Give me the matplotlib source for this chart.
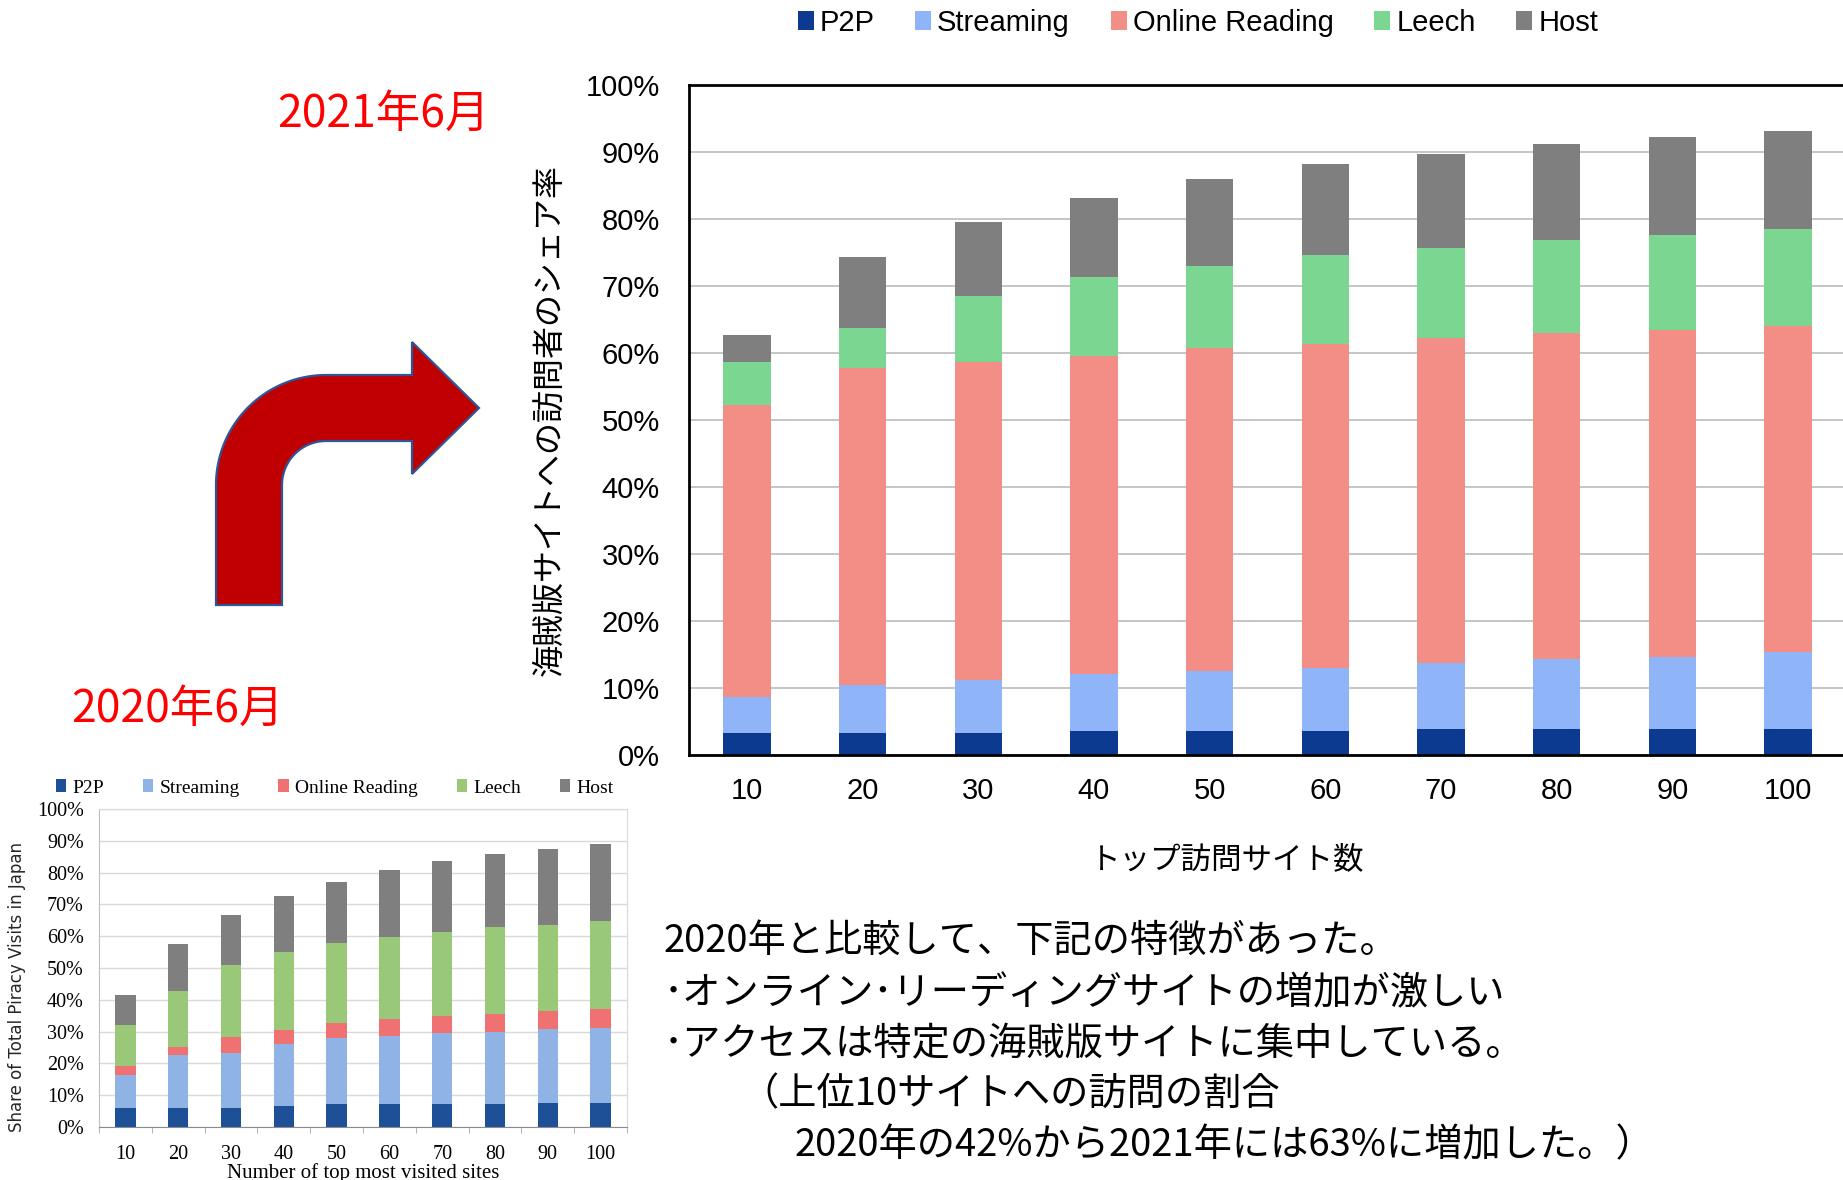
import numpy as np
import matplotlib.pyplot as plt
from matplotlib.patches import Polygon

plt.rcParams['font.family'] = ['Noto Sans CJK JP', 'DejaVu Sans']
plt.rcParams['axes.unicode_minus'] = False

# データ（上位サイト数ごとの訪問シェア, %）
sites = ['10', '20', '30', '40', '50', '60', '70', '80', '90', '100']
categories = ['P2P', 'Streaming', 'Online Reading', 'Leech', 'Host']

# 2021年6月
p2p_2021 = [3.3, 3.3, 3.3, 3.6, 3.6, 3.6, 3.9, 3.9, 3.9, 3.9]
streaming_2021 = [5.4, 7.2, 7.9, 8.5, 9.0, 9.4, 9.8, 10.5, 10.7, 11.4]
reading_2021 = [43.6, 47.2, 47.5, 47.5, 48.1, 48.4, 48.6, 48.6, 48.8, 48.8]
leech_2021 = [6.3, 6.1, 9.8, 11.8, 12.3, 13.2, 13.4, 13.9, 14.2, 14.4]
host_2021 = [4.1, 10.6, 11.0, 11.7, 12.9, 13.6, 14.0, 14.3, 14.6, 14.7]

# 2020年6月
p2p_2020 = [5.9, 5.9, 5.9, 6.5, 7.3, 7.3, 7.3, 7.3, 7.6, 7.6]
streaming_2020 = [10.6, 16.6, 17.5, 19.6, 20.7, 21.2, 22.2, 22.7, 23.3, 23.6]
reading_2020 = [2.7, 2.8, 4.9, 4.5, 4.8, 5.6, 5.4, 5.5, 5.6, 5.9]
leech_2020 = [13.0, 17.5, 22.6, 24.3, 25.1, 25.6, 26.3, 27.5, 27.1, 27.7]
host_2020 = [9.3, 14.8, 15.7, 17.7, 19.3, 21.2, 22.3, 23.0, 23.9, 24.1]

colors_2021 = ['#0B3A90', '#8FB5F8', '#F28E86', '#7BD692', '#7F7F7F']
colors_2020 = ['#1D5096', '#8FB3E4', '#EF7171', '#99C878', '#7F7F7F']

W, H = 1843, 1180


def px_box(left, top, right, bottom):
    # ピクセル座標 -> figure座標
    return [left / W, 1 - bottom / H, (right - left) / W, (bottom - top) / H]


def stacked_bar(ax, series, colors, width):
    x = np.arange(len(sites))
    bottom = np.zeros(len(sites))
    for name, values, color in zip(categories, series, colors):
        ax.bar(x, values, width, bottom=bottom, color=color, label=name, zorder=2)
        bottom += np.array(values)
    return x


fig = plt.figure(figsize=(W / 100, H / 100), dpi=100)

# ---- 2021年6月（メイン） ----
ax1 = fig.add_axes(px_box(689, 85, 1846, 755))
x = stacked_bar(ax1, [p2p_2021, streaming_2021, reading_2021, leech_2021, host_2021],
                colors_2021, 0.41)
ax1.set_xlim(-0.5, 9.5)
ax1.set_ylim(0, 100)
yt = list(range(0, 101, 10))
ax1.set_yticks(yt, [f'{v}%' for v in yt], fontfamily='Liberation Sans', fontsize=21)
ax1.set_xticks(x, sites, fontfamily='Liberation Sans', fontsize=21)
ax1.tick_params(axis='y', length=0, pad=21)
ax1.tick_params(axis='x', length=0, pad=16)
ax1.grid(axis='y', color='#C0C0C0', lw=1.3, zorder=0)
ax1.set_axisbelow(True)
for s in ['left', 'bottom', 'top']:
    ax1.spines[s].set_color('black')
    ax1.spines[s].set_linewidth(2)
ax1.spines['right'].set_visible(False)

fig.legend(*ax1.get_legend_handles_labels(), loc='center left',
           bbox_to_anchor=(783 / W, 1 - 23 / H), ncol=5, frameon=False,
           prop={'family': 'Liberation Sans', 'size': 21}, borderpad=0,
           handlelength=0.55, handleheight=0.6, handletextpad=0.2, columnspacing=1.4)

# ---- 2020年6月（左下） ----
ax2 = fig.add_axes(px_box(99, 809, 627, 1127))
x = stacked_bar(ax2, [p2p_2020, streaming_2020, reading_2020, leech_2020, host_2020],
                colors_2020, 0.39)
ax2.set_xlim(-0.5, 9.5)
ax2.set_ylim(0, 100)
ax2.set_yticks(yt, [f'{v}%' for v in yt], fontfamily='Liberation Serif', fontsize=14.5)
ax2.set_xticks(x, sites, fontfamily='Liberation Serif', fontsize=14.5)
ax2.set_xticks(np.arange(-0.5, 10, 1), minor=True)
ax2.tick_params(axis='y', length=0, pad=11)
ax2.tick_params(axis='x', which='major', length=0, pad=13)
ax2.tick_params(axis='x', which='minor', length=4, color='#A6A6A6')
ax2.grid(axis='y', color='#D9D9D9', lw=1, zorder=0)
ax2.set_axisbelow(True)
for s in ['top', 'right']:
    ax2.spines[s].set_color('#D9D9D9')
ax2.spines['left'].set_color('#BFBFBF')
ax2.spines['bottom'].set_color('#8C8C8C')

ax2.legend(loc='center left', bbox_to_anchor=(46 / 528 - 99 / 528, 1 + 21 / 318), ncol=5,
           frameon=False, prop={'family': 'Liberation Serif', 'size': 14}, borderpad=0,
           handlelength=0.55, handleheight=0.6, handletextpad=0.3, columnspacing=2.0)

# ---- 注記・矢印（ピクセル座標で配置） ----
ov = fig.add_axes([0, 0, 1, 1])
ov.set_xlim(0, W)
ov.set_ylim(H, 0)
ov.axis('off')
ov.patch.set_visible(False)

# 曲がり矢印
cx, cy, r_out, r_in = 326, 485, 110, 44
t = np.linspace(np.pi, np.pi / 2, 40)
outer = np.column_stack([cx + r_out * np.cos(t), cy - r_out * np.sin(t)])
inner = np.column_stack([cx + r_in * np.cos(t[::-1]), cy - r_in * np.sin(t[::-1])])
pts = np.vstack([[[216, 605]], outer,
                 [[412, 375], [412, 342], [479, 408], [412, 474], [412, 441]],
                 inner, [[282, 605]]])
ov.add_patch(Polygon(pts, closed=True, facecolor='#C00000', edgecolor='#2F5597', lw=1.6))

ov.text(383, 114, '2021年6月', color='red', fontsize=32, ha='center', va='center')
ov.text(177, 709, '2020年6月', color='red', fontsize=32, ha='center', va='center')

ov.text(550, 420, '海賊版サイトへの訪問者のシェア率', fontsize=23, rotation=90,
        ha='center', va='center')
ov.text(1227, 860, 'トップ訪問サイト数', fontsize=22, ha='center', va='center')

ov.text(17, 987, 'Share of Total Piracy Visits in Japan', fontsize=12, rotation=90,
        ha='center', va='center', fontfamily='DejaVu Sans', color='#262626')
ov.text(363, 1173, 'Number of top most visited sites', fontsize=15,
        ha='center', va='center', fontfamily='Liberation Serif')

notes = [
    (664, 941, '2020年と比較して、下記の特徴があった。'),
    (664, 994, '･オンライン･リーディングサイトの増加が激しい'),
    (664, 1045, '･アクセスは特定の海賊版サイトに集中している。'),
    (740, 1095, '（上位10サイトへの訪問の割合'),
    (795, 1146, '2020年の42%から2021年には63%に増加した。）'),
]
for nx, ny, txt in notes:
    ov.text(nx, ny, txt, fontsize=27.5, ha='left', va='center')

plt.savefig('out.png', dpi=100)
